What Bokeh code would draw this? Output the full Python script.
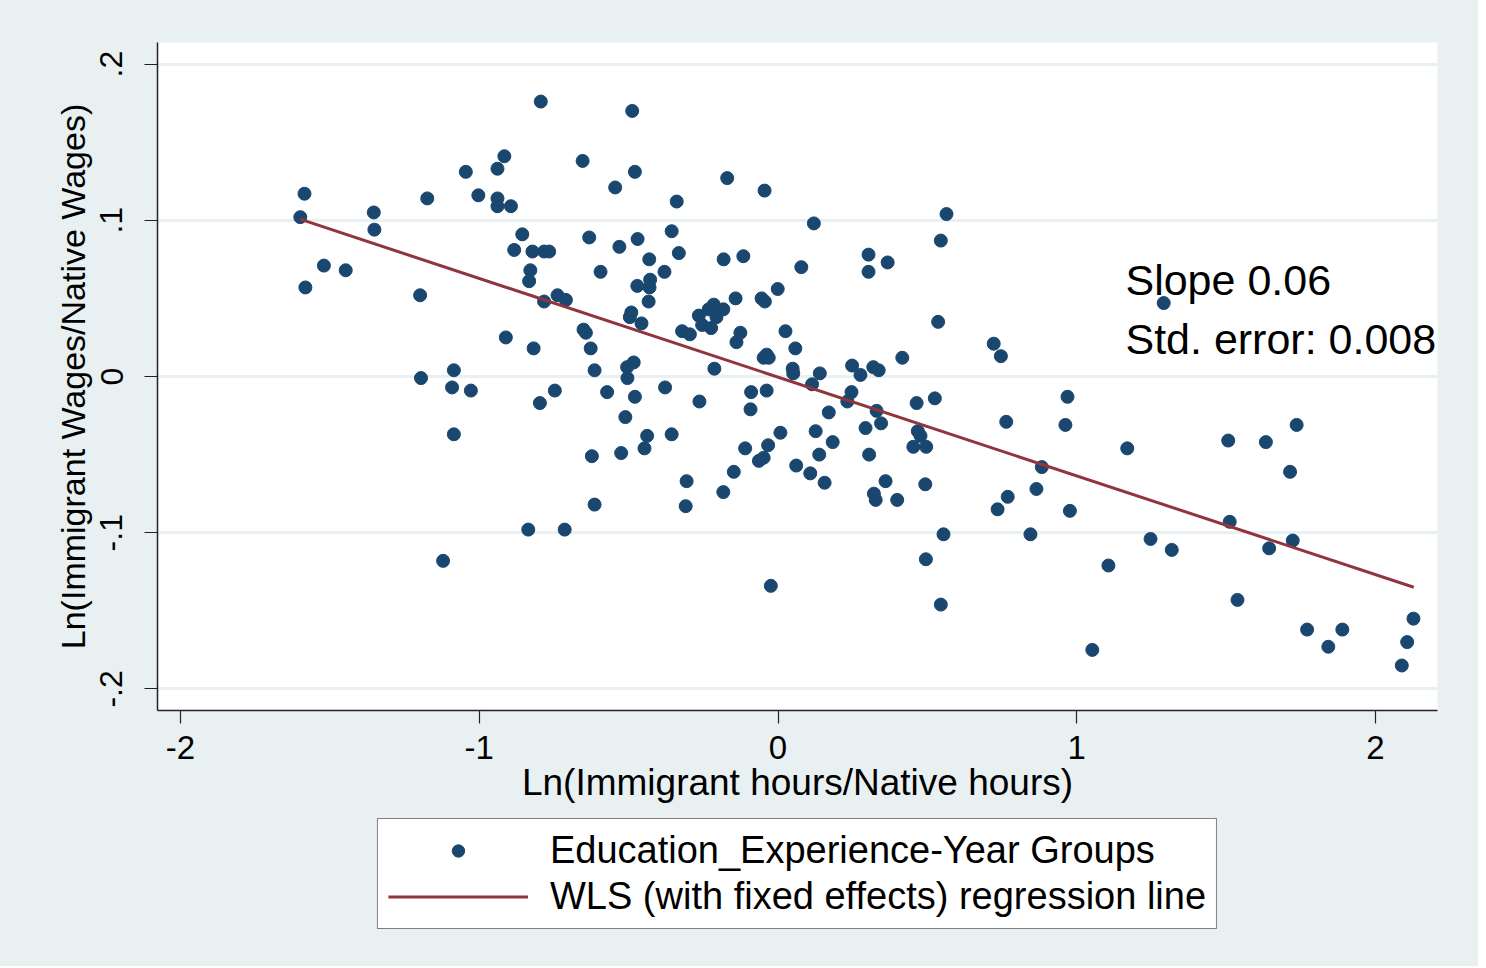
from bokeh.plotting import figure
from bokeh.layouts import column
from bokeh.models import Range1d, FixedTicker, Legend, LegendItem, Label
from bokeh.embed import file_html
from bokeh.resources import INLINE

# ---------------- data ----------------
pts_x = [-0.794, -0.916, -0.654, -1.045, -0.939, -1.585, -1.003, -1.174, -0.939, -0.939,
         -0.894, -1.353, -1.599, -1.351, -0.856, -0.632, -0.883, -0.822, -0.783, -0.766,
         -1.520, -1.447, -0.829, -0.594, -0.833, -1.582, -1.198, -0.738, -0.710, -0.783,
         -0.651, -0.643, -0.911, -0.818, -0.627, -1.085, -0.614, -1.195, -1.091, -1.028,
         -0.747, -0.797, -1.085, -0.623, -0.614, -0.836, -0.714, -1.121, -0.488, -0.479,
         -0.545, -0.170, -0.045, -0.339, 0.120, 0.564, -0.356, -0.470, -0.531, 0.545,
         -0.332, -0.182, -0.116, -0.431, 0.303, 0.367, 0.303, 0.078, -0.380, -0.428,
         -0.471, -0.430, -0.001, -0.433, -0.142, -0.055, -0.044, -0.491, -0.496, -0.457,
         -0.265, -0.254, -0.232, -0.215, -0.183, -0.206, -0.224, 0.536, -0.321, -0.295,
         -0.126, -0.139, 0.025, 0.058, 0.722, 0.746, -0.038, -0.048, -0.031, -0.483,
         -0.505, 0.416, -0.213, 0.049, 0.051, 0.140, 0.248, 0.276, 0.319, 0.337,
         -0.504, 0.114, -0.572, -0.479, -0.378, -0.263, -0.090, -0.038, 0.246, 0.232,
         -0.511, -0.092, 0.170, 0.330, 0.345, 0.464, 0.525, 0.764, -0.438, -0.356,
         0.008, 0.126, 0.293, 0.468, 0.477, -0.525, -0.447, -0.110, -0.033, 0.183,
         0.453, 0.496, 0.138, 0.305, -0.048, -0.064, 0.061, 0.108, 0.156, -0.148,
         -0.306, -0.183, 0.360, 0.321, 0.327, 0.399, 0.493, 0.769, 0.735, -0.309,
         0.554, 0.495, -0.024, 0.545, 0.969, 0.962, 1.169, 0.883, 0.865, 0.977,
         0.845, 1.507, 1.633, 1.736, 1.714, 1.512, 1.247, 1.318, 1.106, 1.644,
         1.723, 1.538, 1.052, 1.771, 1.842, 1.889, 2.127, 2.106, 2.088, 1.291]
pts_y = [0.176, 0.141, 0.138, 0.131, 0.133, 0.117, 0.116, 0.114, 0.114, 0.109,
         0.109, 0.105, 0.102, 0.094, 0.091, 0.089, 0.081, 0.080, 0.080, 0.080,
         0.071, 0.068, 0.068, 0.067, 0.061, 0.057, 0.052, 0.052, 0.049, 0.048,
         0.030, 0.028, 0.025, 0.018, 0.018, 0.004, 0.004, -0.001, -0.007, -0.009,
         -0.009, -0.017, -0.037, -0.051, -0.082, -0.098, -0.098, -0.118, 0.170, 0.131,
         0.121, 0.127, 0.119, 0.112, 0.098, 0.104, 0.093, 0.088, 0.083, 0.087,
         0.079, 0.075, 0.077, 0.075, 0.078, 0.073, 0.067, 0.070, 0.067, 0.062,
         0.058, 0.057, 0.056, 0.048, 0.050, 0.050, 0.048, 0.041, 0.038, 0.034,
         0.039, 0.033, 0.043, 0.046, 0.043, 0.038, 0.031, 0.035, 0.029, 0.027,
         0.028, 0.022, 0.029, 0.018, 0.021, 0.013, 0.014, 0.012, 0.012, 0.009,
         0.006, 0.012, 0.005, 0.005, 0.002, 0.002, 0.007, 0.001, 0.006, 0.004,
         -0.001, -0.005, -0.010, -0.013, -0.007, -0.016, -0.010, -0.009, -0.010, -0.016,
         -0.026, -0.021, -0.023, -0.022, -0.030, -0.017, -0.014, -0.029, -0.038, -0.037,
         -0.036, -0.035, -0.033, -0.035, -0.038, -0.049, -0.046, -0.046, -0.044, -0.042,
         -0.045, -0.045, -0.050, -0.050, -0.052, -0.054, -0.057, -0.062, -0.068, -0.061,
         -0.067, -0.074, -0.067, -0.075, -0.079, -0.079, -0.069, -0.077, -0.085, -0.083,
         -0.101, -0.117, -0.134, -0.146, -0.013, -0.031, -0.046, -0.058, -0.072, -0.086,
         -0.101, -0.041, -0.042, -0.031, -0.061, -0.093, -0.104, -0.111, -0.121, -0.110,
         -0.105, -0.143, -0.175, -0.162, -0.173, -0.162, -0.155, -0.170, -0.185, 0.047]

reg_x = [-1.600, 2.128]
reg_y = [0.1007, -0.1349]

x_ticks = [-2, -1, 0, 1, 2]
x_tick_labels = ["-2", "-1", "0", "1", "2"]
y_ticks = [-0.2, -0.1, 0.0, 0.1, 0.2]
y_tick_labels = ["-.2", "-.1", "0", ".1", ".2"]

x_title = "Ln(Immigrant hours/Native hours)"
y_title = "Ln(Immigrant Wages/Native Wages)"
legend_labels = ["Education_Experience-Year Groups", "WLS (with fixed effects) regression line"]
note_lines = ["Slope 0.06", "Std. error: 0.008"]
note_x = 1.163
note_y = [0.0617, 0.0243]

# ---------------- styles ----------------
BG = "#e8f0f2"
NAVY = "#1a476f"
MAROON = "#90353b"
FONT = "Liberation Sans"
W = 1478

p = figure(width=W, height=818, output_backend="svg", toolbar_location=None,
           x_range=Range1d(-2.077, 2.2075), y_range=Range1d(-0.2138, 0.2138),
           min_border_left=157, min_border_right=41, min_border_top=42, min_border_bottom=108)
p.border_fill_color = BG
p.background_fill_color = "white"
p.outline_line_color = None

pts = p.scatter(pts_x, pts_y, marker="circle", size=13, fill_color=NAVY, line_color=NAVY)
reg = p.line(reg_x, reg_y, line_color=MAROON, line_width=3)

for ax in (p.xaxis[0], p.yaxis[0]):
    ax.axis_line_color = "#222222"
    ax.axis_line_width = 1.5
    ax.major_tick_line_color = "#222222"
    ax.major_tick_line_width = 1.2
    ax.major_tick_out = 13
    ax.major_tick_in = 0
    ax.minor_tick_line_color = None
    ax.major_label_text_font = FONT
    ax.major_label_text_color = "black"
    ax.axis_label_text_font = FONT
    ax.axis_label_text_font_style = "normal"
    ax.axis_label_text_color = "black"

p.xaxis.ticker = FixedTicker(ticks=x_ticks)
p.xaxis.major_label_overrides = dict(zip(x_ticks, x_tick_labels))
p.xaxis.major_label_text_font_size = "33px"
p.xaxis.major_label_standoff = 12
p.xaxis.axis_label = x_title
p.xaxis.axis_label_text_font_size = "37px"
p.xaxis.axis_label_standoff = 0

p.yaxis.ticker = FixedTicker(ticks=y_ticks)
p.yaxis.major_label_overrides = dict(zip(y_ticks, y_tick_labels))
p.yaxis.major_label_orientation = "vertical"
p.yaxis.major_label_text_font_size = "32px"
p.yaxis.major_label_standoff = 22
p.yaxis.axis_label = y_title
p.yaxis.axis_label_text_font_size = "34px"
p.yaxis.axis_label_standoff = 6

p.xgrid.grid_line_color = None
p.ygrid.ticker = FixedTicker(ticks=y_ticks)
p.ygrid.grid_line_color = BG
p.ygrid.grid_line_width = 3

for txt, ty in zip(note_lines, note_y):
    p.add_layout(Label(x=note_x, y=ty, text=txt, text_font=FONT, text_font_size="43px",
                       text_color="black", text_baseline="alphabetic"))

# ---------------- legend strip below the chart ----------------
# Same series drawn again, but the strip's ranges keep them out of view:
# only the legend keys of this strip are visible.
lg = figure(width=W, height=148, output_backend="svg", toolbar_location=None,
            x_range=Range1d(20, 21), y_range=Range1d(20, 21),
            x_axis_type=None, y_axis_type=None,
            min_border_left=114, min_border_right=0, min_border_top=0, min_border_bottom=0)
lg.border_fill_color = BG
lg.background_fill_color = BG
lg.outline_line_color = None
lg.xgrid.visible = False
lg.ygrid.visible = False

key_pts = lg.scatter(pts_x, pts_y, marker="circle", size=13, fill_color=NAVY, line_color=NAVY)
key_line = lg.line(reg_x, reg_y, line_color=MAROON, line_width=3)

legend = Legend(items=[LegendItem(label=legend_labels[0], renderers=[key_pts]),
                       LegendItem(label=legend_labels[1], renderers=[key_line])],
                location="top_center", orientation="vertical",
                glyph_width=140, glyph_height=31, label_height=16,
                label_standoff=22, padding=10, spacing=3, margin=0,
                label_text_font=FONT, label_text_font_size="38px", label_text_color="black",
                border_line_color="black", border_line_width=1.2,
                background_fill_color="white", background_fill_alpha=1.0)
lg.add_layout(legend, "center")

layout = column(p, lg, spacing=0, styles={"background-color": BG})
open("out.html", "w").write(file_html(layout, INLINE))
